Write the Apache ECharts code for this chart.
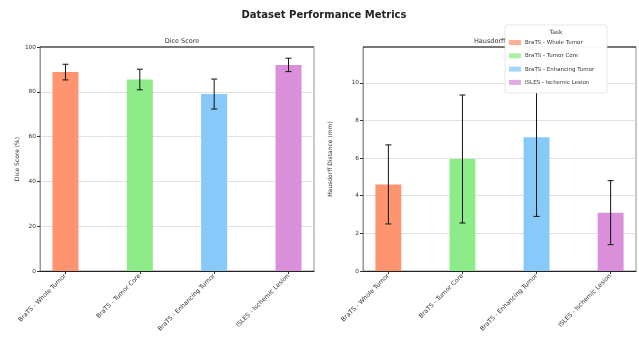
<!DOCTYPE html>
<html><head><meta charset="utf-8">
<script src="https://cdn.jsdelivr.net/npm/echarts@6/dist/echarts.min.js"></script>
<style>html,body{margin:0;padding:0;background:#fff}#c{width:639px;height:352px}</style>
</head><body><div id="c"></div>
<script>
const categories = ["BraTS - Whole Tumor", "BraTS - Tumor Core", "BraTS - Enhancing Tumor", "ISLES - Ischemic Lesion"];
const diceMean = [88.8, 85.5, 79.0, 92.0];
const diceStd = [3.5, 4.6, 6.7, 3.0];
const hdMean = [4.6, 5.95, 7.1, 3.1];
const hdStd = [2.1, 3.4, 4.2, 1.7];
const diceTicks = [0, 20, 40, 60, 80, 100];
const hdTicks = [0, 2, 4, 6, 8, 10];
const colors = ["#FF9470", "#8DEB89", "#87C9F8", "#D98FDA"];

const font = "DejaVu Sans";
const chart = echarts.init(document.getElementById('c'), null, {renderer: 'canvas'});

function barData(means) { return means.map((v, i) => [i, v]); }
function errData(means, stds) { return means.map((v, i) => [i, v - stds[i], v + stds[i]]); }

function renderBar(params, api) {
  const i = api.value(0), v = api.value(1);
  const top = api.coord([i, v]);
  const bot = api.coord([i, 0]);
  const w = api.size([0.35, 0])[0];
  return {type: 'rect', shape: {x: top[0] - w / 2, y: top[1], width: w, height: bot[1] - top[1]},
    style: {fill: colors[params.dataIndex]}};
}
function renderErr(params, api) {
  const i = api.value(0);
  const lo = api.coord([i, api.value(1)]);
  const hi = api.coord([i, api.value(2)]);
  const c = 3;
  const st = {stroke: '#111', lineWidth: 1};
  return {type: 'group', children: [
    {type: 'line', shape: {x1: lo[0], y1: lo[1], x2: hi[0], y2: hi[1]}, style: st},
    {type: 'line', shape: {x1: lo[0] - c, y1: lo[1], x2: lo[0] + c, y2: lo[1]}, style: st},
    {type: 'line', shape: {x1: hi[0] - c, y1: hi[1], x2: hi[0] + c, y2: hi[1]}, style: st}
  ]};
}

function xAxisDef(gi) {
  return {type: 'value', gridIndex: gi, min: -0.3425, max: 3.3425,
    axisLine: {show: true, onZero: false, lineStyle: {color: '#222', width: 1.2}},
    splitLine: {show: false},
    axisTick: {show: true, customValues: [0, 1, 2, 3], length: 3, lineStyle: {color: '#333'}},
    axisLabel: {show: true, customValues: [0, 1, 2, 3], rotate: 45, fontSize: 6.2, color: '#333', fontFamily: font, margin: 4,
      formatter: v => categories[Math.round(v)]}};
}
function yAxisDef(gi, max, ticks, name, gap) {
  return {type: 'value', gridIndex: gi, min: 0, max: max,
    name: name, nameLocation: 'middle', nameGap: gap, nameTextStyle: {fontSize: 6, color: '#333', fontFamily: font},
    axisLine: {show: true, onZero: false, lineStyle: {color: '#888', width: 0.8}},
    axisTick: {show: true, customValues: ticks, length: 3, lineStyle: {color: '#333'}},
    axisLabel: {customValues: ticks, fontSize: 5.8, color: '#333', fontFamily: font, margin: 4},
    splitLine: {show: true, lineStyle: {color: '#d5d5d5', width: 0.7}}};
}

const LZ = 200;
chart.setOption({
  animation: false,
  backgroundColor: '#fff',
  title: [
    {text: 'Dataset Performance Metrics', left: 319, top: 5, textAlign: 'center',
      textStyle: {fontSize: 10, fontWeight: 'bold', color: '#222', fontFamily: font}},
    {text: 'Dice Score', left: 177, top: 33, textAlign: 'center',
      textStyle: {fontSize: 6.5, fontWeight: 'normal', color: '#333', fontFamily: font}},
    {text: 'Hausdorff Distance', left: 500, top: 33, textAlign: 'center',
      textStyle: {fontSize: 6.5, fontWeight: 'normal', color: '#333', fontFamily: font}}
  ],
  grid: [
    {left: 40, right: 325, top: 47, bottom: 81, show: true, borderColor: '#777', borderWidth: 0.8, backgroundColor: 'transparent'},
    {left: 363, right: 3, top: 47, bottom: 81, show: true, borderColor: '#777', borderWidth: 0.8, backgroundColor: 'transparent'}
  ],
  xAxis: [xAxisDef(0), xAxisDef(1)],
  yAxis: [yAxisDef(0, 100, diceTicks, 'Dice Score (%)', 20), yAxisDef(1, 11.9, hdTicks, 'Hausdorff Distance (mm)', 30)],
  graphic: [
    {type: 'line', shape: {x1: 40, y1: 47, x2: 314, y2: 47}, style: {stroke: '#222', lineWidth: 1.2}, z: 10},
    {type: 'line', shape: {x1: 363, y1: 47, x2: 636, y2: 47}, style: {stroke: '#222', lineWidth: 1.2}, z: 10},
    {type: 'rect', x: 505, y: 25, z: LZ, zlevel: 1, shape: {x: 0, y: 0, width: 102, height: 68, r: 2},
      style: {fill: 'rgba(255,255,255,0.96)', stroke: '#ddd', lineWidth: 0.7}},
    {type: 'text', x: 505, y: 25, z: LZ + 1, zlevel: 1, style: {text: 'Task', x: 51, y: 4, align: 'center', fontSize: 6, fill: '#333', fontFamily: font}},
    ...categories.map((c, i) => ({type: 'rect', x: 505, y: 25, z: LZ + 1, zlevel: 1, shape: {x: 4, y: 15 + i * 13.3, width: 12, height: 5},
      style: {fill: colors[i], opacity: 0.75}})),
    ...categories.map((c, i) => ({type: 'text', x: 505, y: 25, z: LZ + 1, zlevel: 1, style: {text: c, x: 20, y: 14.5 + i * 13.3, fontSize: 5.5, fill: '#333', fontFamily: font}}))
  ],
  series: [
    {type: 'custom', xAxisIndex: 0, yAxisIndex: 0, renderItem: renderBar, data: barData(diceMean), encode: {x: 0, y: 1}, z: 2},
    {type: 'custom', xAxisIndex: 0, yAxisIndex: 0, renderItem: renderErr, data: errData(diceMean, diceStd), encode: {x: 0, y: [1, 2]}, z: 3},
    {type: 'custom', xAxisIndex: 1, yAxisIndex: 1, renderItem: renderBar, data: barData(hdMean), encode: {x: 0, y: 1}, z: 2},
    {type: 'custom', xAxisIndex: 1, yAxisIndex: 1, renderItem: renderErr, data: errData(hdMean, hdStd), encode: {x: 0, y: [1, 2]}, z: 3}
  ]
});
</script></body></html>
